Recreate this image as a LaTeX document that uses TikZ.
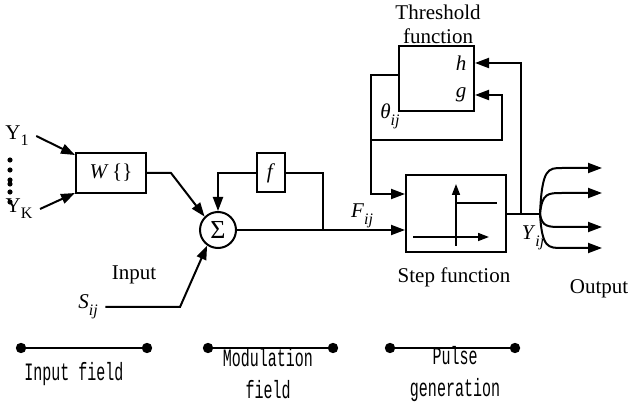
\documentclass[tikz,border=0pt]{standalone}
\usepackage{fontspec}
\setmainfont{Liberation Serif}
\newfontfamily\monofont[FakeStretch=0.6]{Liberation Mono}
\usetikzlibrary{arrows.meta, calc, positioning}
\newcommand{\idx}[2]{\textit{#1}\raisebox{-0.7ex}{\fontsize{8}{8}\selectfont\textit{#2}}}
\newcommand{\upidx}[2]{#1\raisebox{-0.6ex}{\fontsize{8}{8}\selectfont #2}}

\begin{document}
\begin{tikzpicture}[x=0.5pt, y=-0.5pt, line width=1pt,
    font=\fontsize{10.5}{12}\selectfont,
    blk/.style={draw, line width=1pt, inner sep=0pt},
    arr/.style={-{Triangle[length=7pt, width=5pt]}},
    smallarr/.style={-{Triangle[length=5.5pt, width=4pt]}},
    field/.style={font=\monofont\fontsize{12.5}{16}\selectfont, align=center}]
  \path[use as bounding box] (0,0) rectangle (631,405);

  \node (yone) at (17,136) {\upidx{Y}{1}};
  \node (yk) at (19,209) {\upidx{Y}{K}};
  \foreach \y in {160,170,180,184,192,202}
    \fill (10,\y) circle (1.3pt);
  \node[blk, minimum width=35pt, minimum height=20pt] (wbox) at (111,173) {\textit{W}\,\{\}};
  \node[blk, circle, minimum size=18pt, font=\fontsize{13}{13}\selectfont] (sig) at (218,230) {Σ};
  \node[blk, minimum width=14pt, minimum height=19.5pt] (fbox) at (271,173) {\textit{f}};
  \node (sij) at (88,307) {\idx{S}{ij}};
  \node (inlbl) at (134,275) {Input};

  \node[align=center] (thrlbl) at (438,24) {Threshold\\function};
  \node[blk, minimum width=37.5pt, minimum height=32.5pt] (thr) at (436.5,78.5) {};
  \node (h) at (461,63) {\textit{h}};
  \node (g) at (461,95) {\textit{g}};
  \node (theta) at (390,116) {\idx{θ}{ij}};
  \node (fij) at (362,216) {\idx{F}{ij}};
  \node[blk, minimum width=50pt, minimum height=38.5pt] (stepbox) at (456,214) {};
  \node (steplbl) at (454,277) {Step function};
  \node (yij) at (533,238) {\idx{Y}{ij}};
  \node (outlbl) at (599,289) {Output};

  \draw[line width=0.8pt, smallarr] (413,237) -- (489,237);
  \draw[line width=0.8pt, smallarr] (456,246) -- (456,184);
  \draw[line width=1.2pt] (456,237) -- (456,203) -- (497,203);

  \draw[arr] (yone.east) -- ($(wbox.north west)+(0,3)$);
  \draw[arr] (yk.east) -- ($(wbox.south west)+(0,-1)$);
  \draw[arr] (wbox.east) -- ++(24,0) -- (sig.135);
  \draw[arr] (sij.east) -- (180,307) -- (sig.235);
  \draw[arr] (sig.east) -- (sig.east -| stepbox.west);
  \coordinate (jf) at (323,230);
  \draw (jf) |- (fbox.east);
  \draw[arr] (fbox.west) -| (sig.north);

  \coordinate (jt) at (371,140);
  \draw ([yshift=1.5pt]thr.west) -| (jt);
  \draw[arr] (jt) -- (502,140) |- (thr.east |- g);
  \draw[arr] (jt) |- ([yshift=10pt]stepbox.west);
  \coordinate (yj) at (540,214);
  \coordinate (jh) at (521,214);
  \draw (stepbox.east) -- (yj);
  \draw[arr] (jh) |- (thr.east |- h);
  \foreach \y [count=\i] in {168,193,227,248} {
    \coordinate (out\i) at (602,\y);
    \draw[arr] (yj) .. controls (542,\y) and (548,\y) .. (562,\y) -- (out\i);
  }

  \foreach \a/\b/\c/\t [count=\i] in {21/147/74/{Input field},
      208/333/268/{Modulation\\field}, 390/515/455/{Pulse\\generation}} {
    \draw (\a,348) -- (\b,348);
    \fill (\a,348) circle (2.6pt) (\b,348) circle (2.6pt);
    \node[field] (fld\i) at (\c,374) {\t};
  }
\end{tikzpicture}
\end{document}
